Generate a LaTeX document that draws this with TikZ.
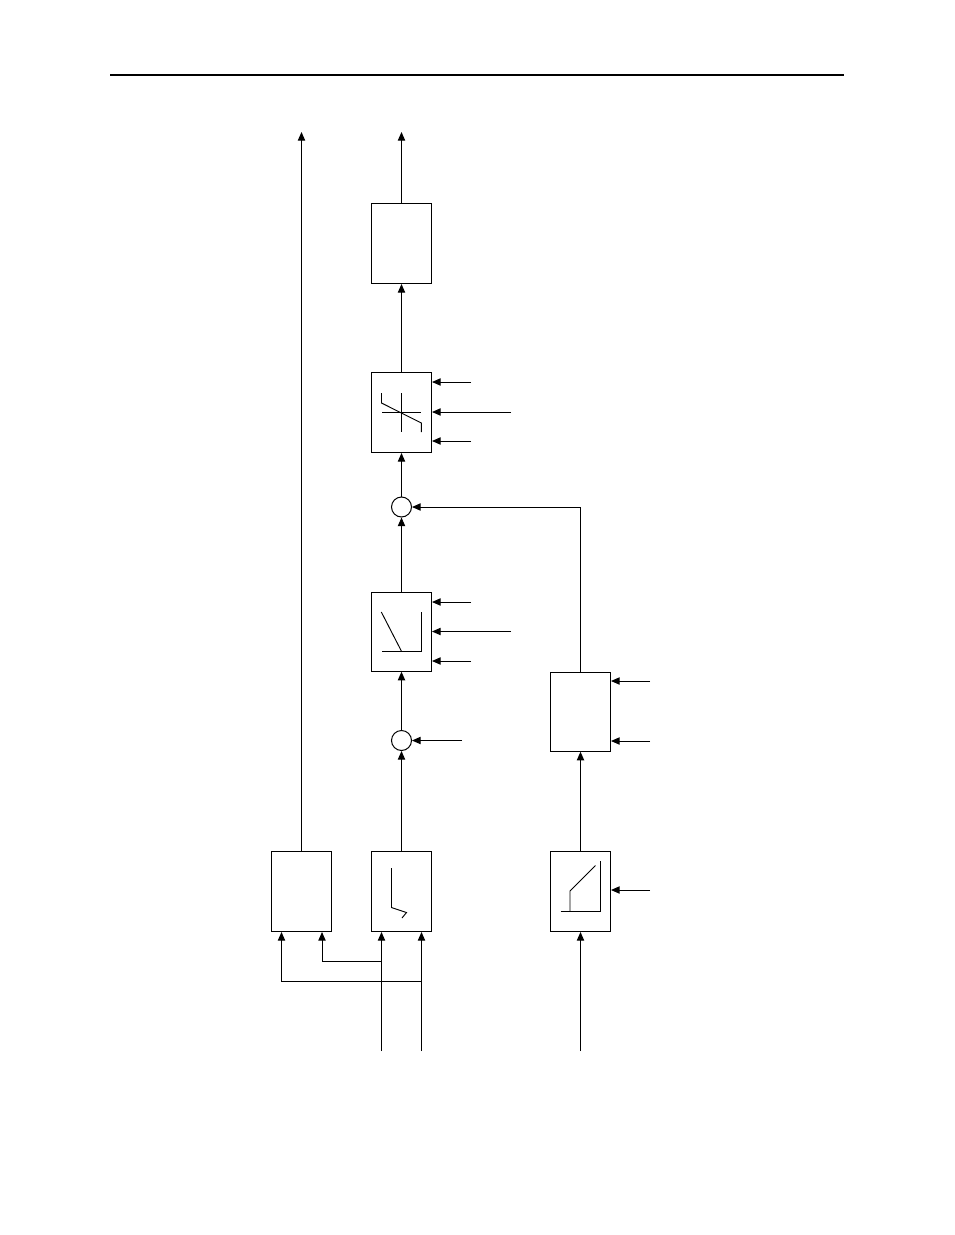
\documentclass[tikz,border=0pt]{standalone}
\usepackage{tikz}
\usetikzlibrary{arrows.meta, positioning}

\begin{document}
\begin{tikzpicture}[
      x=0.75pt, y=-0.75pt,
      line width=0.75pt,
      block/.style={rectangle, draw, fill=white, minimum width=45pt, minimum height=60pt, inner sep=0pt},
      sum/.style={circle, draw, fill=white, minimum size=15pt, inner sep=0pt},
      sig/.style={-{Triangle[length=6.5pt, width=5.5pt]}},
      glyph/.style={line width=0.7pt}
    ]
      \useasboundingbox (0, 0) rectangle (954, 1235);

      % header rule
      \coordinate (RL) at (110, 75);
      \coordinate (RR) at (844, 75);
      \draw[line width=2.2pt] (RL) -- (RR);

      \node[block] (OUT) at (401.5, 243.5) {};
      \node[block] (LIM) at (401.5, 412.5) {};
      \node[sum] (S1) at (401.5, 507) {};
      \node[block, minimum height=59.25pt] (DZ) at (401.5, 631.7) {};
      \node[sum] (S2) at (401.5, 740.5) {};
      \node[block, minimum height=59.25pt] (AUX) at (580.5, 711.7) {};
      \node[block] (LEFT) at (301.5, 891.5) {};
      \node[block] (CURVE) at (401.5, 891.5) {};
      \node[block] (RAMP) at (580.5, 891.5) {};

      % free ends
      \coordinate (TopL) at (301.5, 132);
      \coordinate (TopM) at (401.5, 132);
      \coordinate (InA) at (381.5, 1051);
      \coordinate (InB) at (421.5, 1051);
      \coordinate (InC) at (580.5, 1051);
      \coordinate (LimA) at (471, 382);
      \coordinate (LimB) at (511, 412);
      \coordinate (LimC) at (471, 441);
      \coordinate (DzA) at (471, 602);
      \coordinate (DzB) at (511, 631.5);
      \coordinate (DzC) at (471, 661);
      \coordinate (SumIn) at (462, 740.5);
      \coordinate (AuxA) at (650, 681);
      \coordinate (AuxB) at (650, 741);
      \coordinate (RampIn) at (650, 890);
      \coordinate (JA) at (381.5, 961);
      \coordinate (JB) at (421.5, 981);
      \coordinate (LA) at (322, 961);
      \coordinate (LB) at (281.5, 981);
      \coordinate (Bend) at (580.5, 507);

      % main path
      \draw[sig] (LEFT) -- (TopL);
      \draw[sig] (OUT) -- (TopM);
      \draw[sig] (LIM) -- (OUT);
      \draw[sig] (S1) -- (LIM);
      \draw[sig] (DZ) -- (S1);
      \draw[sig] (S2) -- (DZ);
      \draw[sig] (CURVE) -- (S2);
      \draw[sig] (RAMP) -- (AUX);
      \draw[sig] (AUX.north) -- (Bend) -- (S1);

      % bottom inputs
      \draw[sig] (InA) -- (InA |- CURVE.south);
      \draw[sig] (InB) -- (InB |- CURVE.south);
      \draw[sig] (InC) -- (RAMP);
      \draw[sig] (JA) -- (LA) -- (LA |- LEFT.south);
      \draw[sig] (JB) -- (LB) -- (LB |- LEFT.south);

      % side inputs
      \draw[sig] (LimA) -- (LimA -| LIM.east);
      \draw[sig] (LimB) -- (LimB -| LIM.east);
      \draw[sig] (LimC) -- (LimC -| LIM.east);
      \draw[sig] (DzA) -- (DzA -| DZ.east);
      \draw[sig] (DzB) -- (DzB -| DZ.east);
      \draw[sig] (DzC) -- (DzC -| DZ.east);
      \draw[sig] (SumIn) -- (S2);
      \draw[sig] (AuxA) -- (AuxA -| AUX.east);
      \draw[sig] (AuxB) -- (AuxB -| AUX.east);
      \draw[sig] (RampIn) -- (RampIn -| RAMP.east);

      % block glyphs
      \draw[glyph] (401.5, 393) -- (401.5, 432);
      \draw[glyph] (382, 412.3) -- (421, 412.3);
      \draw[glyph] (381.5, 393) -- (381.5, 403) -- (421.3, 423) -- (421.3, 432);

      \draw[glyph] (381.3, 612) -- (401.5, 651.3);
      \draw[glyph] (382, 651.3) -- (421.5, 651.3) -- (421.5, 612);

      \draw[glyph] (391.5, 868) -- (391.5, 907.5) -- (406.5, 912.5) -- (402, 918);

      \draw[glyph] (560.5, 911.3) -- (600, 911.3) -- (600, 861);
      \draw[glyph] (570, 911.3) -- (570, 891) -- (595.5, 865.5);
    \end{tikzpicture}
\end{document}
